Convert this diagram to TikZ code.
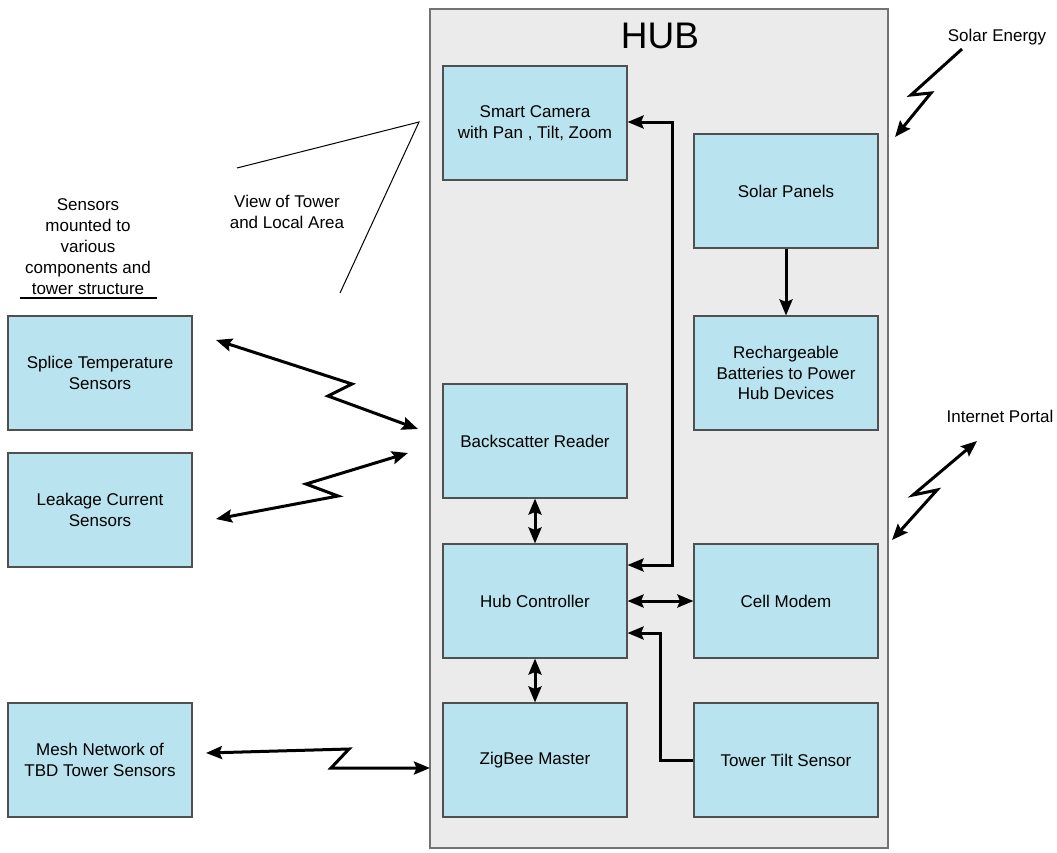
\documentclass[tikz,border=0pt]{standalone}
\usepackage{fontspec}
\setmainfont{Liberation Sans}
\usetikzlibrary{arrows.meta,calc}
\definecolor{boxblue}{RGB}{185,227,238}
\definecolor{hubgray}{RGB}{235,235,235}
\definecolor{edgegray}{RGB}{80,80,80}
\tikzset{
  blk/.style={draw=edgegray,line width=1.1pt,fill=boxblue,minimum width=184pt,minimum height=114pt,inner sep=0pt,align=center,font=\fontsize{17}{20.5}\selectfont},
  hubbox/.style={draw=edgegray!80,line width=1.1pt,fill=hubgray,minimum width=458pt,minimum height=839pt,inner sep=0pt},
  lbl/.style={align=center,inner sep=0pt,font=\fontsize{17}{21}\selectfont},
  tip/.tip={Stealth[length=16pt,width=13pt,inset=2.5pt]},
  one/.style={line width=3pt,-tip,line join=miter},
  dbl/.style={line width=3pt,tip-tip,line join=miter},
  thin/.style={line width=1pt}
}
\begin{document}
\begin{tikzpicture}[x=1pt,y=-1pt]
\useasboundingbox (0,0) rectangle (1057,852);
\node[hubbox] (hub) at (659,428.5) {};
\node[lbl,font=\fontsize{37}{40}\selectfont] (hubt) at (660,36) {HUB};

\node[blk] (cam) at (535,123) {Smart Camera\\with Pan , Tilt, Zoom};
\node[blk] (solar) at (786,191) {Solar Panels};
\node[blk] (batt) at (786,373) {Rechargeable\\Batteries to Power\\Hub Devices};
\node[blk] (back) at (535,441) {Backscatter Reader};
\node[blk] (ctrl) at (535,601) {Hub Controller};
\node[blk] (modem) at (786,601) {Cell Modem};
\node[blk] (zig) at (535,760) {ZigBee Master};
\node[blk] (tilt) at (786,760) {Tower Tilt Sensor};
\node[blk] (splice) at (100,373) {Splice Temperature\\Sensors};
\node[blk] (leak) at (100,510) {Leakage Current\\Sensors};
\node[blk] (mesh) at (100,760) {Mesh Network of\\TBD Tower Sensors};

\node[lbl] (sens) at (88,247) {Sensors\\mounted to\\various\\components and\\tower structure};
\coordinate (ul1) at (20,298);
\coordinate (ul2) at (157,298);
\draw[line width=1.3pt] (ul1) -- (ul2);

\node[lbl] (view) at (287,212) {View of Tower\\and Local Area};
\coordinate (v1) at (237,168);
\coordinate (v2) at (419,122);
\coordinate (v3) at (340,293);
\draw[thin] (v1) -- (v2) -- (v3);

\node[lbl] (solare) at (997,37) {Solar Energy};
\node[lbl] (inet) at (1000,416) {Internet Portal};

% internal connectors
\draw[dbl] (ctrl.east |- 0,565) -- (672,565) -- (672,122) -- (cam.east |- 0,122);
\draw[one] (solar.south) -- (batt.north);
\draw[dbl] (back.south) -- (ctrl.north);
\draw[dbl] (ctrl.east) -- (modem.west);
\draw[dbl] (ctrl.south) -- (zig.north);
\draw[one] (tilt.west) -- (660,760) -- (660,633) -- (ctrl.east |- 0,633);

% wireless links
\coordinate (s1) at (216,340);
\coordinate (s2) at (418,429);
\draw[dbl] (s1) -- (352,384) -- (328,396) -- (s2);
\coordinate (l1) at (216,519);
\coordinate (l2) at (408,453);
\draw[dbl] (l1) -- (338,496) -- (306,484) -- (l2);
\coordinate (m1) at (206,753);
\coordinate (m2) at (430,768);
\draw[dbl] (m1) -- (349,749) -- (331,768) -- (m2);
\coordinate (e1) at (962,49);
\coordinate (e2) at (895,137);
\draw[one] (e1) -- (911,95) -- (931,93) -- (e2);
\coordinate (i1) at (977,441);
\coordinate (i2) at (892,540);
\draw[dbl] (i2) -- (937,490) -- (913,495) -- (i1);
\end{tikzpicture}
\end{document}
